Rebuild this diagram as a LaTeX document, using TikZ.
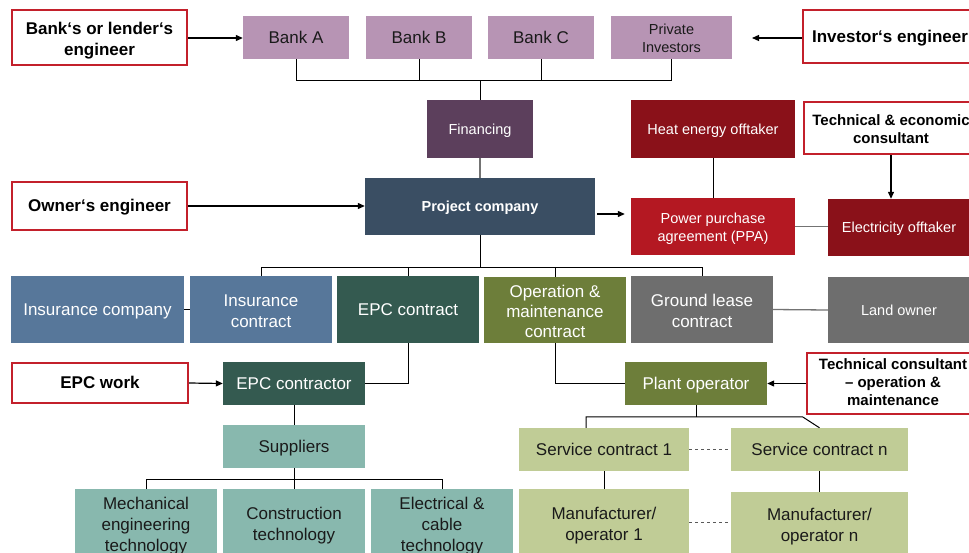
\documentclass[tikz,border=0pt]{standalone}
\usepackage{fontspec}
\setmainfont{Liberation Sans}
\usetikzlibrary{arrows.meta,calc}
\definecolor{bankc}{HTML}{B794B4}
\definecolor{finc}{HTML}{5C3F5C}
\definecolor{projc}{HTML}{3A4E63}
\definecolor{heatc}{HTML}{8A1119}
\definecolor{ppac}{HTML}{B41822}
\definecolor{insc}{HTML}{57779A}
\definecolor{epcc}{HTML}{345A50}
\definecolor{omc}{HTML}{6D7E3A}
\definecolor{grc}{HTML}{6E6E6E}
\definecolor{tealc}{HTML}{88B8AE}
\definecolor{scc}{HTML}{C0CC96}
\definecolor{redc}{HTML}{C3202B}
\definecolor{txtc}{HTML}{1A1A1A}
\newcommand\pptstrut{\rule[-0.212em]{0pt}{1.117em}}
\newcommand\fl{\rule{0pt}{1.15em}}
\newcommand\fls{\rule{0pt}{1.04em}}
\begin{document}
\begin{tikzpicture}[x=1pt,y=-1pt,
  every node/.style={inner sep=0pt, align=center,
    execute at begin node=\pptstrut, execute at end node=\pptstrut},
  ml/.style={execute at begin node={}, execute at end node={}},
  big/.style={font=\fontsize{17}{21}\selectfont},
  sml/.style={font=\fontsize{14.5}{18}\selectfont},
  wt/.style={text=white},
  dk/.style={text=txtc},
  redbox/.style={draw=redc, line width=2.2pt, fill=white, text=black, font=\bfseries\fontsize{17}{21}\selectfont},
  redsml/.style={draw=redc, line width=2.2pt, fill=white, text=black, font=\bfseries\fontsize{15}{18}\selectfont},
  ln/.style={draw=black, line width=1pt},
  gln/.style={draw=black!55, line width=1.3pt},
  dln/.style={draw=black!65, line width=1pt, dash pattern=on 3pt off 3pt},
  arr/.style={draw=black, line width=1.2pt, -{Triangle[length=7pt,width=6pt]}}
]
\useasboundingbox (0,0) rectangle (969,552);
\clip (0,0) rectangle (969,552);
\fill[white] (0,0) rectangle (969,552);

% top row
\node[redbox, ml, minimum width=175pt, minimum height=55pt] (lender) at (99.5,37.5) {\fl Bank‘s or lender‘s\\engineer};
\node[big, dk, fill=bankc, minimum width=106pt, minimum height=43pt] (bankA) at (296,37.5) {Bank A};
\node[big, dk, fill=bankc, minimum width=106pt, minimum height=43pt] (bankB) at (419,37.5) {Bank B};
\node[big, dk, fill=bankc, minimum width=106pt, minimum height=43pt] (bankC) at (541,37.5) {Bank C};
\node[sml, dk, ml, fill=bankc, minimum width=121pt, minimum height=43pt] (priv) at (671.5,37.5) {\fls Private\\Investors};
\node[redbox, minimum width=174pt, minimum height=53pt] (inveng) at (890,36.5) {Investor‘s engineer};
\coordinate (invtip) at (752,38);

% second row
\node[sml, wt, fill=finc, minimum width=106pt, minimum height=58pt] (fin) at (480,129) {Financing};
\node[sml, wt, fill=heatc, minimum width=164pt, minimum height=58pt] (heat) at (713,129) {Heat energy offtaker};
\node[redsml, ml, minimum width=174pt, minimum height=52pt] (techeco) at (891,128) {\fls Technical \& economic\\consultant};

% third row
\node[redbox, minimum width=175pt, minimum height=48pt] (owner) at (99.5,206) {Owner‘s engineer};
\node[sml, wt, fill=projc, font=\bfseries\fontsize{14.5}{18}\selectfont, minimum width=230pt, minimum height=57pt] (proj) at (480,206.5) {Project company};
\node[sml, wt, ml, fill=ppac, minimum width=164pt, minimum height=57pt] (ppa) at (713,226.5) {\fls Power purchase\\agreement (PPA)};
\node[sml, wt, fill=heatc, minimum width=142pt, minimum height=57pt] (elec) at (899,227.5) {Electricity offtaker};

% fourth row
\node[big, wt, fill=insc, minimum width=173pt, minimum height=67pt] (inscomp) at (97.5,309.5) {Insurance company};
\node[big, wt, ml, fill=insc, minimum width=142pt, minimum height=67pt] (inscon) at (261,309.5) {\fl Insurance\\contract};
\node[big, wt, fill=epcc, minimum width=142pt, minimum height=67pt] (epccon) at (408,309.5) {EPC contract};
\node[big, wt, ml, fill=omc, font=\fontsize{17}{20}\selectfont, minimum width=142pt, minimum height=66pt] (om) at (555,310) {\fl Operation \&\\maintenance\\contract};
\node[big, wt, ml, fill=grc, minimum width=142pt, minimum height=67pt] (ground) at (702,309.5) {\fl Ground lease\\contract};
\node[sml, wt, fill=grc, minimum width=142pt, minimum height=66pt] (land) at (899,310) {Land owner};

% fifth row
\node[redbox, minimum width=176pt, minimum height=40pt] (epcwork) at (100,383) {EPC work};
\node[big, wt, fill=epcc, minimum width=142pt, minimum height=43pt] (epcctr) at (294,383.5) {EPC contractor};
\node[big, wt, fill=omc, minimum width=142pt, minimum height=43pt] (plant) at (696,383.5) {Plant operator};
\node[redsml, ml, minimum width=172pt, minimum height=61pt] (techcons) at (893,383.5) {Technical consultant\\– operation \&\\maintenance};

% sixth row
\node[big, dk, fill=tealc, minimum width=142pt, minimum height=43pt] (supp) at (294,446.5) {Suppliers};
\node[big, dk, fill=scc, minimum width=170pt, minimum height=43pt] (sc1) at (604,449.5) {Service contract 1};
\node[big, dk, fill=scc, minimum width=177pt, minimum height=43pt] (scn) at (819.5,449.5) {Service contract n};

% bottom row
\node[big, dk, ml, fill=tealc, minimum width=142pt, minimum height=68pt] (mech) at (146,523) {\fls Mechanical\\engineering\\technology};
\node[big, dk, ml, fill=tealc, minimum width=142pt, minimum height=68pt] (constr) at (294,523) {\fls Construction\\technology};
\node[big, dk, ml, fill=tealc, minimum width=142pt, minimum height=68pt] (electr) at (442,523) {\fls Electrical \&\\cable\\technology};
\node[big, dk, ml, fill=scc, minimum width=170pt, minimum height=67pt] (mo1) at (604,522.5) {\fls Manufacturer/\\operator 1};
\node[big, dk, ml, fill=scc, minimum width=177pt, minimum height=64pt] (mon) at (819.5,524) {\fls Manufacturer/\\operator n};

% bus coordinates
\coordinate (busA) at (0,80);
\coordinate (busB) at (0,267);
\coordinate (busC) at (0,479);
\coordinate (busD) at (0,417);

% connectors top
\draw[arr] (lender.east |- 0,38) -- (bankA.west |- 0,38);
\draw[arr] (inveng.west |- 0,38) -- (invtip);
\draw[ln] (bankA.south) |- (busA -| priv.south) -- (priv.south);
\draw[ln] (bankB.south) -- (bankB.south |- busA);
\draw[ln] (bankC.south) -- (bankC.south |- busA);
\draw[ln] (fin.north) -- (fin.north |- busA);
\draw[gln] (fin.south) -- (proj.north);
\draw[ln] (heat.south) -- (ppa.north);
\draw[arr] (techeco.south) -- (techeco.south |- elec.north);
\draw[arr] (owner.east) -- (owner.east -| proj.west);
\draw[arr] ($(proj.east)+(2,7.5)$) -- ($(proj.east -| ppa.west)+(-6,7.5)$);
\draw[gln] (ppa.east) -- (ppa.east -| elec.west);

% second bus
\draw[ln] (inscon.north) |- (busB -| ground.north) -- (ground.north);
\draw[ln] (epccon.north) -- (epccon.north |- busB);
\draw[ln] (proj.south) -- (proj.south |- busB);
\draw[ln] (om.north) -- (om.north |- busB);
\draw[ln] (inscomp.east) -- (inscon.west);
\draw[gln] (ground.east) -- (land.west);

% lower
\draw[ln] (epccon.south) |- (epcctr.east);
\draw[ln] (om.south) |- (plant.west);
\draw[arr] (epcwork.east) -- (epcctr.west);
\draw[arr] (techcons.west) -- (plant.east);
\draw[ln] (epcctr.south) -- (supp.north);
\draw[ln] (mech.north) |- (busC -| electr.north) -- (electr.north);
\draw[ln] (supp.south) -- (constr.north);
\draw[ln] (plant.south) -- (plant.south |- busD);
\draw[ln] ($(sc1.north)+(-18,0)$) |- ($(scn.north)+(-17,-11)$) -- (scn.north);
\draw[dln] (sc1.east) -- (scn.west);
\draw[ln] (sc1.south) -- (mo1.north);
\draw[ln] (scn.south) -- (mon.north);
\draw[dln] (mo1.east) -- (mo1.east -| mon.west);
\end{tikzpicture}
\end{document}
